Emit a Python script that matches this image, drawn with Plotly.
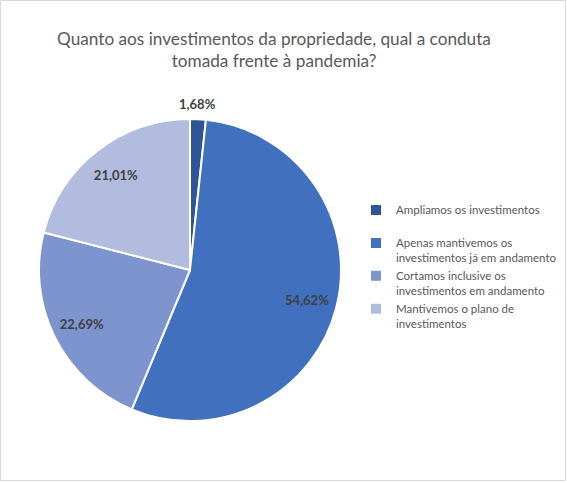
import math
import plotly.graph_objects as go

# respostas (n = 119)
labels = [
    "Ampliamos os investimentos<br> ",
    "Apenas mantivemos os<br>investimentos já em andamento",
    "Cortamos inclusive os<br>investimentos em andamento",
    "Mantivemos o plano de<br>investimentos",
]
counts = [2, 65, 27, 25]
colors = ["#2E5597", "#4170BE", "#7E94CF", "#B1BCDE"]
# slice labels: the tiny first slice gets its label outside the pie
inside_text = ["", None, None, None]

TITLE = "Quanto aos investimentos da propriedade, qual a conduta<br>tomada frente à pandemia?"
W, H = 567, 483
GREY, DARKTXT = "#595959", "#404040"

# pie box in pixels (centre 190,270, radius 151)
CX, CY, R = 190, 270, 151
dom = dict(x=[(CX - R) / W, (CX + R) / W], y=[1 - (CY + R) / H, 1 - (CY - R) / H])

fig = go.Figure()
fig.add_trace(go.Pie(
    labels=labels, values=counts, sort=False,
    direction="clockwise", rotation=0,
    marker=dict(colors=colors, line=dict(color="white", width=2)),
    textinfo="none", domain=dom,
    hovertemplate="%{label}: %{percent:.2%}<extra></extra>",
))
# transparent ring on top just to carry the inside labels at ~0.8 R
fig.add_trace(go.Pie(
    labels=labels, values=counts, sort=False,
    direction="clockwise", rotation=0, hole=0.6,
    marker=dict(colors=["rgba(0,0,0,0)"] * 4, line=dict(width=0)),
    texttemplate=[t if t is not None else "<b>%{percent:.2%}</b>" for t in inside_text],
    textposition="inside", insidetextorientation="horizontal",
    textfont=dict(color=DARKTXT, size=13),
    domain=dom, showlegend=False, hoverinfo="skip",
))

# outside label for the first slice, placed on its mid angle
total = sum(counts)
theta = 2 * math.pi * (counts[0] / 2) / total
rl = R + 25
fig.add_annotation(
    x=(CX + rl * math.sin(theta) - 2) / W, y=1 - (CY - rl * math.cos(theta)) / H,
    xref="paper", yref="paper", showarrow=False,
    text=f"<b>{counts[0] / total:.2%}</b>".replace(".", ","),
    font=dict(color=DARKTXT, size=13),
)

fig.update_layout(
    width=W, height=H,
    paper_bgcolor="white",
    separators=",.",
    font=dict(family="Lato, Carlito, Calibri, sans-serif", color=GREY),
    margin=dict(l=0, r=0, t=0, b=0),
    title=dict(text=TITLE, x=274 / W, xanchor="center", y=1 - 45 / H, yanchor="middle",
               yref="container", font=dict(size=17.2, color=GREY)),
    legend=dict(x=356 / W, xanchor="left", y=1 - 196 / H, yanchor="top",
                font=dict(size=11.5, color=GREY), valign="top",
                itemwidth=30, bgcolor="rgba(0,0,0,0)"),
    shapes=[dict(type="rect", xref="paper", yref="paper",
                 x0=0.5 / W, x1=1 - 1.5 / W, y0=2.5 / H, y1=1 - 0.5 / H,
                 line=dict(color="#D9D9D9", width=1))],
)

fig.write_html("out.html", config={"displayModeBar": False},
               post_script="document.body.style.margin='0';")
